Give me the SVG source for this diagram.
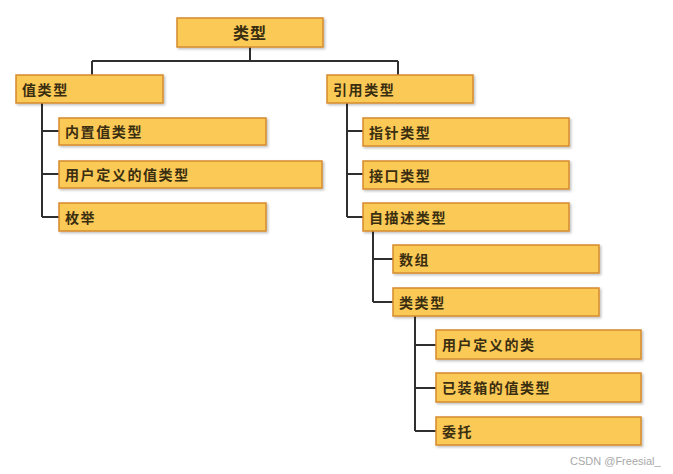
<svg xmlns="http://www.w3.org/2000/svg" width="673" height="474" viewBox="0 0 673 474">
<style>
.b{fill:#fbc957;stroke:#d68b2c;stroke-width:1.5;filter:url(#sh)}
.t{font-family:"Noto Sans CJK SC","Noto Sans",sans-serif;font-weight:bold;font-size:14px;fill:#3a2e10;letter-spacing:1.6px}
.r{font-size:16px;letter-spacing:1px}
.c{fill:none;stroke:#2f2f2f;stroke-width:2}
.w{font-family:"Liberation Sans","DejaVu Sans",sans-serif;font-size:11px;fill:#a8a8a8}
</style>
<defs>
<filter id="sh" x="-5%" y="-20%" width="115%" height="160%">
<feDropShadow dx="1.5" dy="1.5" stdDeviation="1.2" flood-color="#000" flood-opacity="0.25"/>
</filter>
</defs>
<rect width="673" height="474" fill="#ffffff"/>
<g id="connectors">
<path class="c" d="M250 47V61M92 61H398M92 61V75M398 61V75"/>
<path class="c" d="M42 103V217M42 131H59M42 174H59M42 217H59"/>
<path class="c" d="M347 103V217M347 131H363M347 174H363M347 217H363"/>
<path class="c" d="M373 231V302M373 259H393M373 302H393"/>
<path class="c" d="M415 316V431M415 345H436M415 388H436M415 431H436"/>
</g>
<g id="root"><rect class="b" x="177" y="18" width="146" height="29"/><text class="t r" x="250" y="39" text-anchor="middle">类型</text></g>
<g id="value"><rect class="b" x="16" y="75" width="147" height="28"/><text class="t" x="22" y="95">值类型</text></g>
<g id="builtin"><rect class="b" x="59" y="118" width="207" height="27"/><text class="t" x="65" y="137">内置值类型</text></g>
<g id="userval"><rect class="b" x="59" y="161" width="263" height="27"/><text class="t" x="65" y="180">用户定义的值类型</text></g>
<g id="enum"><rect class="b" x="59" y="203" width="207" height="28"/><text class="t" x="65" y="223">枚举</text></g>
<g id="ref"><rect class="b" x="327" y="75" width="146" height="28"/><text class="t" x="333" y="95">引用类型</text></g>
<g id="pointer"><rect class="b" x="363" y="118" width="206" height="28"/><text class="t" x="369" y="138">指针类型</text></g>
<g id="iface"><rect class="b" x="363" y="161" width="206" height="28"/><text class="t" x="369" y="181">接口类型</text></g>
<g id="selfdesc"><rect class="b" x="363" y="203" width="206" height="28"/><text class="t" x="369" y="223">自描述类型</text></g>
<g id="array"><rect class="b" x="393" y="245" width="206" height="28"/><text class="t" x="399" y="265">数组</text></g>
<g id="class"><rect class="b" x="393" y="288" width="206" height="28"/><text class="t" x="399" y="308">类类型</text></g>
<g id="userclass"><rect class="b" x="436" y="330" width="205" height="29"/><text class="t" x="442" y="350">用户定义的类</text></g>
<g id="boxed"><rect class="b" x="436" y="373" width="205" height="29"/><text class="t" x="442" y="393">已装箱的值类型</text></g>
<g id="delegate"><rect class="b" x="436" y="417" width="205" height="28"/><text class="t" x="442" y="437">委托</text></g>
<text class="w" x="570" y="465">CSDN @Freesial_</text>
</svg>
